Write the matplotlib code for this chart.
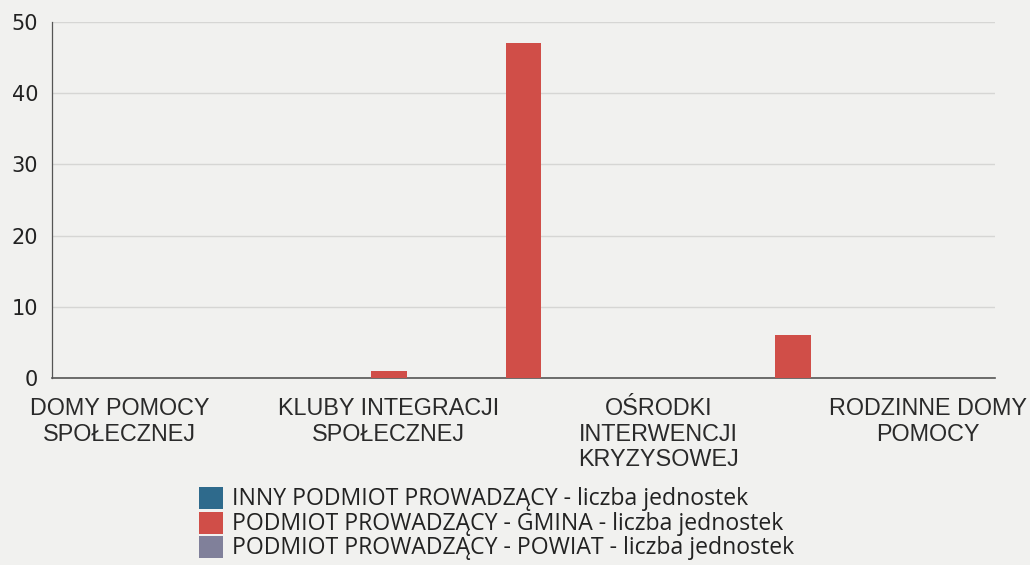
import numpy as np
import matplotlib
matplotlib.use("Agg")
import matplotlib.pyplot as plt
from matplotlib.patches import Rectangle

categories = [
    "DOMY POMOCY\nSPOŁECZNEJ",
    "DZIENNE DOMY\nPOMOCY",
    "KLUBY INTEGRACJI\nSPOŁECZNEJ",
    "MIESZKANIA\nCHRONIONE",
    "OŚRODKI\nINTERWENCJI\nKRYZYSOWEJ",
    "OŚRODKI\nWSPARCIA",
    "RODZINNE DOMY\nPOMOCY",
]
series_names = [
    "INNY PODMIOT PROWADZĄCY - liczba jednostek",
    "PODMIOT PROWADZĄCY - GMINA - liczba jednostek",
    "PODMIOT PROWADZĄCY - POWIAT - liczba jednostek",
]
inny = [0, 0, 0, 0, 0, 0, 0]
gmina = [0, 0, 1, 47, 0, 6, 0]
powiat = [0, 0, 0, 0, 0, 0, 0]
y_ticks = [0, 10, 20, 30, 40, 50]

colors = ["#2e6a8c", "#d04e48", "#80809a"]
bg = "#f1f1ef"

W, H = 1030, 565
fig = plt.figure(figsize=(W / 100, H / 100), dpi=100, facecolor=bg)
ax = fig.add_axes([0.0505, 0.331, 0.9155, 0.630], facecolor=bg)

x = np.arange(len(categories))
w = 0.8 / 3
for i, (vals, c) in enumerate(zip([inny, gmina, powiat], colors)):
    ax.bar(x + (i - 1) * w, vals, width=w, color=c, linewidth=0, zorder=3)

ax.set_xlim(-0.5, len(categories) - 0.5)
ax.set_ylim(0, 50)
ax.set_yticks(y_ticks)
ax.set_yticklabels([str(v) for v in y_ticks], fontsize=15, color="#222222",
                   family="DejaVu Sans")
ax.yaxis.grid(True, color="#d6d6d4", linewidth=1, zorder=0)
ax.tick_params(axis="y", length=0, pad=10)

ax.set_xticks(x[::2])
ax.set_xticklabels(categories[::2], fontsize=16.8, color="#2a2a2a",
                   family="Liberation Sans", linespacing=1.12)
ax.tick_params(axis="x", length=0, pad=14)

for s in ["top", "right"]:
    ax.spines[s].set_visible(False)
ax.spines["left"].set_color("#555555")
ax.spines["left"].set_linewidth(0.9)
ax.spines["bottom"].set_color("#555555")
ax.spines["bottom"].set_linewidth(1.2)

# legend drawn in figure pixel layout
row_centers = [498, 522.5, 547]
for name, c, yc in zip(series_names, colors, row_centers):
    fig.patches.append(Rectangle((199 / W, 1 - (yc + 11) / H), 24 / W, 22 / H,
                                 transform=fig.transFigure, facecolor=c,
                                 edgecolor="none"))
    fig.text(232 / W, 1 - (yc + 1) / H, name, fontsize=16.6, family="Open Sans",
             color="#222222", va="center", ha="left")

fig.savefig("out.png", dpi=100, facecolor=bg)
